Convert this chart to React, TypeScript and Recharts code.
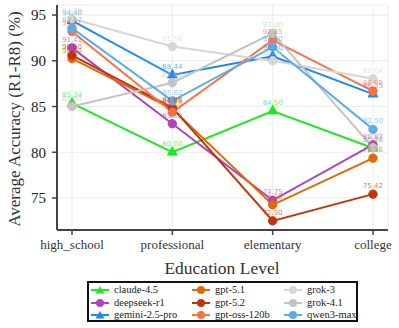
import React from 'react'
import { LineChart, Line, XAxis, YAxis, CartesianGrid, LabelList, Label, Symbols } from 'recharts'

const categories = ['high_school', 'professional', 'elementary', 'college']

const claude45 = [85.34, 80.0, 84.5, 80.46]
const deepseekR1 = [91.41, 83.12, 74.75, 80.83]
const gemini25Pro = [94.4, 88.44, 90.5, 86.35]
const gpt51 = [90.24, 84.75, 74.25, 79.36]
const gpt52 = [90.6, 84.88, 72.5, 75.42]
const gptOss120b = [93.21, 84.38, 92.25, 86.69]
const grok3 = [94.6, 91.56, 90.0, 88.04]
const grok41 = [85.0, 87.6, 93.0, 80.5]
const qwen3Max = [93.57, 85.62, 91.5, 82.5]

const yTicks = [75, 80, 85, 90, 95]

const series = [
  { key: 'claude-4.5', values: claude45, color: '#1ee81e', marker: 'triangle' },
  { key: 'deepseek-r1', values: deepseekR1, color: '#ab47bc', marker: 'circle' },
  { key: 'gemini-2.5-pro', values: gemini25Pro, color: '#1e88f5', marker: 'triangle' },
  { key: 'gpt-5.1', values: gpt51, color: '#e0680a', marker: 'circle' },
  { key: 'gpt-5.2', values: gpt52, color: '#c0360c', marker: 'circle' },
  { key: 'gpt-oss-120b', values: gptOss120b, color: '#ff7043', marker: 'circle' },
  { key: 'grok-3', values: grok3, color: '#d6d6d6', marker: 'circle' },
  { key: 'grok-4.1', values: grok41, color: '#c4c4c4', marker: 'circle' },
  { key: 'qwen3-max', values: qwen3Max, color: '#5aaee6', marker: 'circle' },
]

const data = categories.map((c, i) => {
  const row: Record<string, string | number> = { name: c }
  series.forEach(s => { row[s.key] = s.values[i] })
  return row
})

const SERIF = 'Liberation Serif'

function makeDot(color: string, marker: string, name: string) {
  // eslint-disable-next-line @typescript-eslint/no-explicit-any
  return (props: any) => {
    const { cx, cy, index } = props
    if (cx == null || cy == null) return <g key={`${name}-${index}`} />
    if (marker === 'triangle') {
      return <Symbols key={`${name}-${index}`} cx={cx} cy={cy} type="triangle" size={42} fill={color} stroke={color} />
    }
    return <circle key={`${name}-${index}`} cx={cx} cy={cy} r={4.2} fill={color} stroke={color} />
  }
}

function LegendIcon({ color, marker }: { color: string; marker: string }) {
  return (
    <svg width={18} height={10} style={{ display: 'block' }}>
      <line x1={0} y1={5} x2={18} y2={5} stroke={color} strokeWidth={2} />
      {marker === 'triangle' ? (
        <polygon points="9,1 13.5,8.5 4.5,8.5" fill={color} />
      ) : (
        <circle cx={9} cy={5} r={4} fill={color} />
      )}
    </svg>
  )
}

export default function App() {
  const columns = [series.slice(0, 3), series.slice(3, 6), series.slice(6, 9)]
  const colLeft = [2, 103, 195]

  return (
    <div style={{ position: 'absolute', left: 0, top: 0, width: 399, height: 328, background: '#fff' }}>
      <LineChart width={399} height={328} data={data} margin={{ top: 5, right: 11, bottom: 48, left: 0 }}>
        <CartesianGrid stroke="#ececec" strokeWidth={1} />
        <XAxis
          dataKey="name"
          padding={{ left: 15, right: 15 }}
          height={50}
          tick={{ fontSize: 13, fill: '#333', fontFamily: SERIF }}
          tickSize={5}
          tickMargin={5}
          tickLine={{ stroke: '#444', strokeWidth: 1.5 }}
          axisLine={{ stroke: '#444', strokeWidth: 2 }}
        >
          <Label
            content={() => (
              <text x={222} y={274} textAnchor="middle" fontSize={17.5} fontFamily={SERIF} fill="#333">
                Education Level
              </text>
            )}
          />
        </XAxis>
        <YAxis
          width={57}
          domain={[71.5, 96.1]}
          ticks={yTicks}
          tick={{ fontSize: 15, fill: '#222', fontFamily: SERIF }}
          tickSize={5}
          tickMargin={6}
          tickLine={{ stroke: '#444', strokeWidth: 1.5 }}
          axisLine={{ stroke: '#444', strokeWidth: 2 }}
        >
          <Label
            content={() => (
              <text
                x={14}
                y={119}
                transform="rotate(-90, 14, 119)"
                textAnchor="middle"
                dominantBaseline="central"
                fontSize={17}
                fontFamily={SERIF}
                fill="#333"
              >
                Average Accuracy (R1-R8) (%)
              </text>
            )}
          />
        </YAxis>
        {series.map(s => (
          <Line
            key={s.key}
            dataKey={s.key}
            stroke={s.color}
            strokeWidth={2}
            dot={makeDot(s.color, s.marker, s.key)}
            activeDot={false}
            isAnimationActive={false}
          >
            <LabelList
              dataKey={s.key}
              position="top"
              offset={6}
              fontSize={7}
              fontFamily="DejaVu Sans"
              fill={s.color}
              fillOpacity={0.7}
              // eslint-disable-next-line @typescript-eslint/no-explicit-any
              formatter={(v: any) => Number(v).toFixed(2)}
            />
          </Line>
        ))}
      </LineChart>
      <div
        style={{
          position: 'absolute',
          left: 87,
          top: 281,
          width: 267,
          height: 37,
          border: '2px solid #111',
          fontFamily: SERIF,
          fontSize: 10.5,
          color: '#222',
        }}
      >
        {columns.map((col, ci) => (
          <div key={ci} style={{ position: 'absolute', left: colLeft[ci], top: 1 }}>
            {col.map(s => (
              <div key={s.key} style={{ display: 'flex', alignItems: 'center', height: 12.4 }}>
                <LegendIcon color={s.color} marker={s.marker} />
                <span style={{ marginLeft: 5, lineHeight: '12px', whiteSpace: 'nowrap' }}>{s.key}</span>
              </div>
            ))}
          </div>
        ))}
      </div>
    </div>
  )
}
